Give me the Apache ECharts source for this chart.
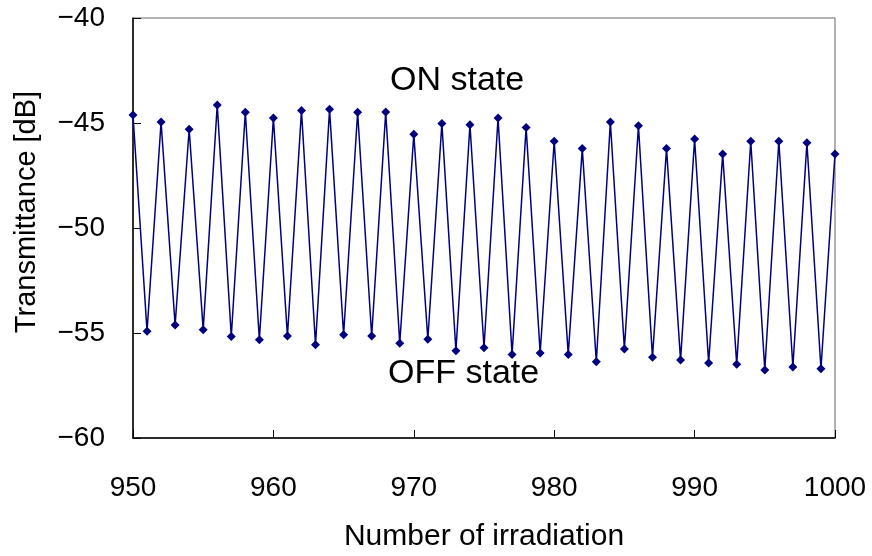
<!DOCTYPE html>
<html>
<head>
<meta charset="utf-8">
<script src="https://cdn.jsdelivr.net/npm/echarts@6/dist/echarts.min.js"></script>
<style>
  html, body { margin: 0; padding: 0; background: #fff; }
  #chart-container { width: 872px; height: 556px; }
</style>
</head>
<body>
<div id="chart-container"></div>
<script>
// irradiation number 950..1000, ON state on even counts, OFF state on odd counts
var irradiation = [];
for (var n = 950; n <= 1000; n++) irradiation.push(n);

var onState = [-44.62, -44.95, -45.30, -44.14, -44.49, -44.76, -44.41, -44.35, -44.49,
  -44.48, -45.54, -45.02, -45.08, -44.76, -45.21, -45.87, -46.22, -44.95, -45.13,
  -46.22, -45.76, -46.48, -45.87, -45.87, -45.94, -46.48];
var offState = [-54.92, -54.62, -54.84, -55.17, -55.32, -55.14, -55.56, -55.08, -55.14,
  -55.49, -55.30, -55.84, -55.70, -56.02, -55.95, -56.02, -56.37, -55.76, -56.16,
  -56.29, -56.43, -56.49, -56.76, -56.62, -56.70];

var xTicks = [950, 960, 970, 980, 990, 1000];
var yTicks = [-60, -55, -50, -45, -40];

var transmittance = irradiation.map(function (n, i) {
  var k = Math.floor(i / 2);
  return [n, i % 2 === 0 ? onState[k] : offState[k]];
});

var dom = document.getElementById('chart-container');
var myChart = echarts.init(dom, null, { renderer: 'canvas' });

var minus = function (v) { return String(v).replace('-', '\u2212'); };
var font = 'Liberation Sans';

var option = {
  animation: false,
  backgroundColor: '#fff',
  grid: {
    left: 133, right: 37, top: 18, bottom: 118,
    containLabel: false, outerBoundsMode: 'none',
    show: true, borderColor: '#666', borderWidth: 1
  },
  xAxis: {
    type: 'value',
    min: xTicks[0], max: xTicks[xTicks.length - 1], interval: 10,
    name: 'Number of irradiation',
    nameLocation: 'middle', nameGap: 84,
    nameTextStyle: { fontFamily: font, fontSize: 30, color: '#000' },
    axisLine: { lineStyle: { color: '#000', width: 1.5 } },
    axisTick: { inside: true, length: 8, lineStyle: { color: '#000' } },
    axisLabel: { fontFamily: font, fontSize: 28, color: '#000', margin: 36, formatter: function (v) { return String(v); } },
    splitLine: { show: false }
  },
  yAxis: {
    type: 'value',
    min: yTicks[0], max: yTicks[yTicks.length - 1], interval: 5,
    name: 'Transmittance [dB]',
    nameLocation: 'middle', nameGap: 92, nameRotate: 90,
    nameTextStyle: { fontFamily: font, fontSize: 29, color: '#000', padding: [0, 0, 0, 32] },
    axisLine: { show: true, lineStyle: { color: '#000', width: 1.5 } },
    axisTick: { show: true, inside: true, length: 8, lineStyle: { color: '#000' } },
    axisLabel: { fontFamily: font, fontSize: 28, color: '#000', margin: 28, formatter: minus },
    splitLine: { show: false }
  },
  graphic: [
    { type: 'text', left: 390, top: 64, style: { text: 'ON state', fontFamily: font, fontSize: 34, fill: '#000' } },
    { type: 'text', left: 388, top: 357, style: { text: 'OFF state', fontFamily: font, fontSize: 34, fill: '#000' } }
  ],
  series: [{
    type: 'line',
    data: transmittance,
    symbol: 'diamond',
    symbolSize: 9,
    lineStyle: { color: '#000080', width: 1.5 },
    itemStyle: { color: '#000080' }
  }]
};

myChart.setOption(option);
window.addEventListener('resize', myChart.resize);
</script>
</body>
</html>
